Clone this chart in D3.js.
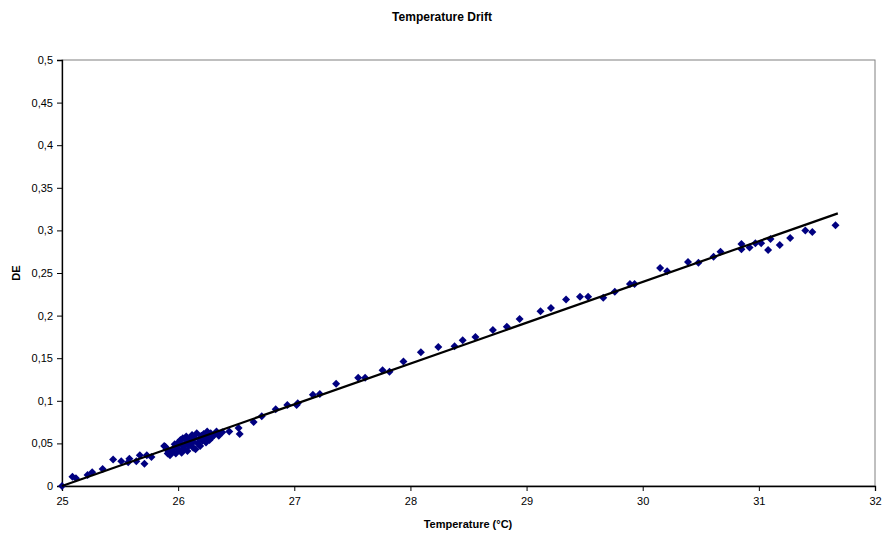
<!DOCTYPE html>
<html lang="en">
<head>
<meta charset="utf-8">
<title>Temperature Drift</title>
<script src="https://d3js.org/d3.v7.min.js"></script>
<style>
  body { margin: 0; background: #fff; }
  svg { font-family: "Liberation Sans", Arial, sans-serif; }
  .tick text { font-size: 11px; fill: #000; }
</style>
</head>
<body>
<script>
// measured temperature (°C) and DE readings
var temps = [
  25.00, 25.09, 25.12, 25.22, 25.26, 25.35, 25.44, 25.51, 25.57, 25.58,
  25.64, 25.67, 25.71, 25.73, 25.77, 25.89,
  25.88, 25.90, 25.91, 25.92, 25.93, 25.95, 25.96, 25.97, 25.98, 25.99,
  26.00, 26.01, 26.02, 26.03, 26.03, 26.04, 26.05, 26.06, 26.07, 26.08,
  26.08, 26.09, 26.10, 26.11, 26.12, 26.13, 26.13, 26.14, 26.15, 26.16,
  26.17, 26.18, 26.19, 26.20, 26.21, 26.22, 26.23, 26.24, 26.25, 26.26,
  26.27, 26.28, 26.29, 26.31, 26.33, 26.35, 26.38, 26.44, 26.52, 26.53,
  26.65, 26.72, 26.84, 26.94, 27.02, 27.03, 27.16, 27.22, 27.36, 27.55,
  27.61, 27.76, 27.82, 27.94, 28.09, 28.24, 28.38, 28.45, 28.56, 28.71,
  28.83, 28.94, 29.12, 29.21, 29.34, 29.46, 29.53, 29.66, 29.76, 29.89,
  29.93, 30.15, 30.21, 30.39, 30.48, 30.61, 30.67, 30.85, 30.85, 30.92,
  30.97, 31.02, 31.08, 31.10, 31.18, 31.27, 31.40, 31.46, 31.66
];
var deValues = [
  0.000, 0.011, 0.009, 0.013, 0.016, 0.020, 0.031, 0.029, 0.028, 0.032,
  0.029, 0.036, 0.026, 0.036, 0.034, 0.046,
  0.047, 0.043, 0.038, 0.041, 0.036, 0.040, 0.044, 0.049, 0.038, 0.046,
  0.051, 0.042, 0.054, 0.039, 0.048, 0.056, 0.044, 0.050, 0.058, 0.041,
  0.053, 0.047, 0.055, 0.049, 0.060, 0.045, 0.052, 0.057, 0.043, 0.062,
  0.050, 0.055, 0.047, 0.059, 0.053, 0.061, 0.056, 0.051, 0.064, 0.058,
  0.054, 0.062, 0.057, 0.060, 0.064, 0.059, 0.063, 0.064, 0.068, 0.061,
  0.075, 0.082, 0.090, 0.095, 0.095, 0.097, 0.107, 0.108, 0.120, 0.127,
  0.127, 0.136, 0.134, 0.146, 0.157, 0.163, 0.164, 0.171, 0.175, 0.183,
  0.187, 0.196, 0.205, 0.209, 0.219, 0.222, 0.222, 0.221, 0.228, 0.237,
  0.237, 0.256, 0.252, 0.263, 0.262, 0.269, 0.275, 0.284, 0.278, 0.280,
  0.285, 0.285, 0.277, 0.290, 0.283, 0.291, 0.300, 0.298, 0.306
];
// linear trendline ends
var trendX = [25, 31.68];
var trendY = [0, 0.32];

var xTicks = [25, 26, 27, 28, 29, 30, 31, 32];
var yTicks = [0, 0.05, 0.1, 0.15, 0.2, 0.25, 0.3, 0.35, 0.4, 0.45, 0.5];

var width = 883, height = 536;
var plotL = 62, plotR = 875, plotT = 60, plotB = 486;

var svg = d3.select("body").append("svg")
    .attr("width", width)
    .attr("height", height);

var x = d3.scaleLinear().domain([25, 32]).range([plotL, plotR]);
var y = d3.scaleLinear().domain([0, 0.5]).range([plotB, plotT]);

var locale = d3.formatLocale({decimal: ",", thousands: ".", grouping: [3], currency: ["", ""]});
var fmt = locale.format("~g");

// plot area frame (grey top / right)
svg.append("rect")
    .attr("x", plotL).attr("y", plotT)
    .attr("width", plotR - plotL).attr("height", plotB - plotT)
    .attr("fill", "none")
    .attr("stroke", "#808080")
    .attr("stroke-width", 1);

// axes
svg.append("g")
    .attr("transform", "translate(" + plotL + ",0)")
    .call(d3.axisLeft(y).tickValues(yTicks).tickSize(5).tickPadding(4).tickFormat(fmt));

svg.append("g")
    .attr("transform", "translate(0," + plotB + ")")
    .call(d3.axisBottom(x).tickValues(xTicks).tickSize(5).tickPadding(6).tickFormat(fmt));

svg.selectAll(".domain").attr("stroke", "#000").attr("stroke-width", 1.3);
svg.selectAll(".tick line").attr("stroke", "#000");

// points
var pts = temps.map(function(t, i) { return [t, deValues[i]]; });

svg.append("g")
    .selectAll("path")
    .data(pts)
    .enter().append("path")
    .attr("d", "M0,-4L4,0L0,4L-4,0Z")
    .attr("transform", function(d) { return "translate(" + x(d[0]) + "," + y(d[1]) + ")"; })
    .attr("fill", "#000080");

// trendline
svg.append("path")
    .datum(trendX.map(function(t, i) { return [t, trendY[i]]; }))
    .attr("fill", "none")
    .attr("stroke", "#000")
    .attr("stroke-width", 2.2)
    .attr("d", d3.line().x(function(d) { return x(d[0]); }).y(function(d) { return y(d[1]); }));

// titles
svg.append("text")
    .attr("x", 442).attr("y", 21)
    .attr("text-anchor", "middle")
    .attr("font-size", "12px")
    .attr("font-weight", "bold")
    .text("Temperature Drift");

svg.append("text")
    .attr("x", 468).attr("y", 528)
    .attr("text-anchor", "middle")
    .attr("font-size", "11px")
    .attr("font-weight", "bold")
    .text("Temperature (°C)");

svg.append("text")
    .attr("transform", "translate(20,273) rotate(-90)")
    .attr("text-anchor", "middle")
    .attr("font-size", "11px")
    .attr("font-weight", "bold")
    .text("DE");
</script>
</body>
</html>
